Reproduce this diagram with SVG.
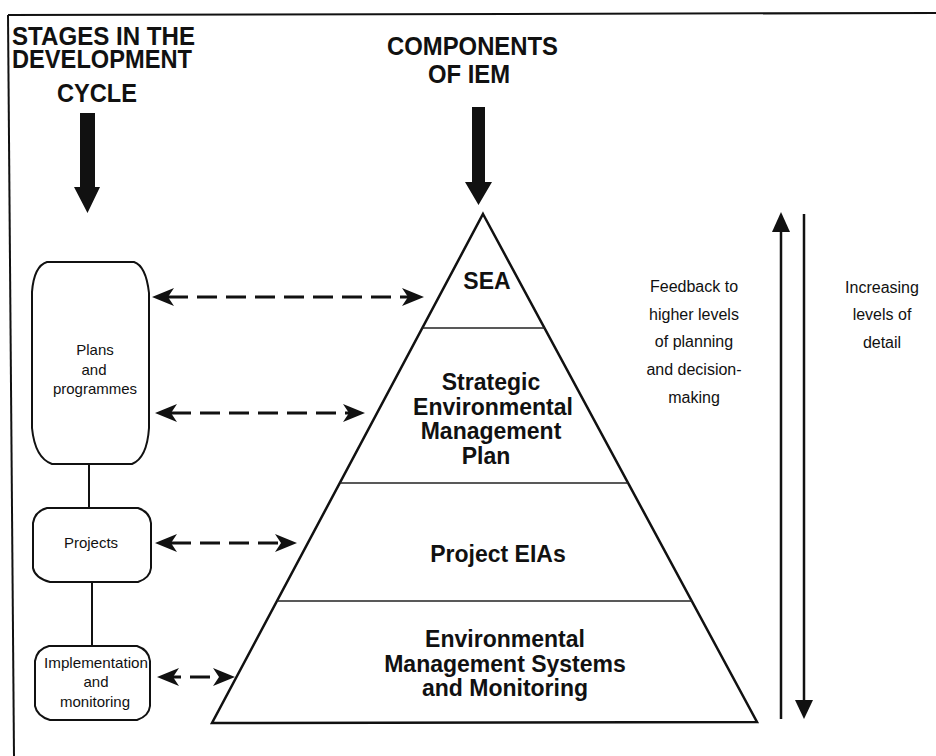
<svg xmlns="http://www.w3.org/2000/svg" width="936" height="756" viewBox="0 0 936 756">
<style>
.title{font-family:"Liberation Sans",Arial,sans-serif;font-weight:bold;font-size:26px;fill:#111}
.box{fill:#fff;stroke:#111;stroke-width:2}
.lbl{font-family:"Liberation Sans",Arial,sans-serif;font-size:15px;fill:#111;text-anchor:middle}
.pyr{font-family:"Liberation Sans",Arial,sans-serif;font-weight:bold;font-size:23px;fill:#111;text-anchor:middle}
.side{font-family:"Liberation Sans",Arial,sans-serif;font-size:16px;fill:#111;text-anchor:middle}
.dash{stroke:#111;stroke-width:3;stroke-dasharray:20 9;fill:none;marker-start:url(#barb);marker-end:url(#barb)}
.solid{stroke:#111;stroke-width:2;fill:none}
.tier{stroke:#222;stroke-width:1.5}
</style>
<defs>
<marker id="barb" markerUnits="userSpaceOnUse" markerWidth="24" markerHeight="20" refX="6" refY="9" orient="auto-start-reverse" viewBox="0 0 24 20">
<path d="M0,0 L22,9 L0,18 L6,9 Z" fill="#111"/>
</marker>
</defs>
<rect width="936" height="756" fill="#fff"/>
<g id="frame">
<line x1="8" y1="15" x2="936" y2="13" stroke="#111" stroke-width="2"/>
<line x1="8" y1="15" x2="14" y2="756" stroke="#111" stroke-width="2"/>
</g>
<g id="title-stages">
<text class="title" x="12" y="45" textLength="183" lengthAdjust="spacingAndGlyphs">STAGES IN THE</text>
<text class="title" x="12" y="68" textLength="180" lengthAdjust="spacingAndGlyphs">DEVELOPMENT</text>
<text class="title" x="57" y="102" textLength="80" lengthAdjust="spacingAndGlyphs">CYCLE</text>
<polygon points="80,113 95,113 95,187 100,187 87.5,213 74,187 80,187" fill="#111"/>
</g>
<g id="title-components">
<text class="title" x="387" y="55" font-size="29" textLength="171" lengthAdjust="spacingAndGlyphs">COMPONENTS</text>
<text class="title" x="428" y="83" font-size="29" textLength="82" lengthAdjust="spacingAndGlyphs">OF IEM</text>
<polygon points="472,107 485,107 485,182 492,182 478.5,205 465,182 472,182" fill="#111"/>
</g>
<g id="connectors">
<line class="solid" x1="89" y1="464" x2="89" y2="508"/>
<line class="solid" x1="92" y1="582" x2="92" y2="646"/>
<line class="dash" x1="168" y1="297" x2="408" y2="297"/>
<line class="dash" x1="171" y1="413" x2="349" y2="413"/>
<line class="dash" x1="171" y1="543" x2="281" y2="543"/>
<line class="dash" x1="173" y1="677" x2="219" y2="677" stroke-dasharray="12 8" stroke-dashoffset="-17"/>
</g>
<g id="node-plans">
<path class="box" d="M47,262 H134 Q146,266 149,293 V428 Q147,458 132,464 H52 Q35,458 32,428 V292 Q34,266 47,262 Z"/>
<text class="lbl" x="95" y="355">Plans</text>
<text class="lbl" x="94" y="375">and</text>
<text class="lbl" x="95" y="394">programmes</text>
</g>
<g id="node-projects">
<path class="box" d="M47,508 H138 Q150,512 151,523 V568 Q150,578 138,582 H50 Q35,578 33,568 V523 Q35,511 47,508 Z"/>
<text class="lbl" x="91" y="548">Projects</text>
</g>
<g id="node-implementation">
<path class="box" d="M49,646 H137 Q149,650 150,661 V706 Q149,716 137,720 H50 Q37,716 35,706 V661 Q37,649 49,646 Z"/>
<text class="lbl" x="96" y="668" textLength="104" lengthAdjust="spacingAndGlyphs">Implementation</text>
<text class="lbl" x="96" y="687">and</text>
<text class="lbl" x="95" y="707">monitoring</text>
</g>
<g id="pyramid">
<polygon points="483,214 757,722 212,723" fill="#fff" stroke="#111" stroke-width="2.5" stroke-linejoin="miter"/>
<line class="tier" x1="422" y1="328" x2="545" y2="328"/>
<line class="tier" x1="340" y1="483" x2="628" y2="483"/>
<line class="tier" x1="277" y1="601" x2="692" y2="601"/>
</g>
<g id="node-sea"><text class="pyr" x="487" y="289">SEA</text></g>
<g id="node-semp">
<text class="pyr" x="491" y="390">Strategic</text>
<text class="pyr" x="493" y="415">Environmental</text>
<text class="pyr" x="491" y="439">Management</text>
<text class="pyr" x="486" y="464">Plan</text>
</g>
<g id="node-eia"><text class="pyr" x="498" y="562">Project EIAs</text></g>
<g id="node-ems">
<text class="pyr" x="505" y="647">Environmental</text>
<text class="pyr" x="505" y="672">Management Systems</text>
<text class="pyr" x="505" y="696">and Monitoring</text>
</g>
<g id="feedback">
<line x1="781" y1="719" x2="781" y2="228" stroke="#111" stroke-width="2.5"/>
<polygon points="781,212 790,232 772,232" fill="#111"/>
<text class="side" x="694" y="292">Feedback to</text>
<text class="side" x="694" y="320">higher levels</text>
<text class="side" x="694" y="347">of planning</text>
<text class="side" x="694" y="375">and decision-</text>
<text class="side" x="694" y="403">making</text>
</g>
<g id="detail">
<line x1="804" y1="214" x2="804" y2="704" stroke="#111" stroke-width="2.5"/>
<polygon points="804,719 813,700 795,700" fill="#111"/>
<text class="side" x="882" y="293">Increasing</text>
<text class="side" x="882" y="320">levels of</text>
<text class="side" x="882" y="348">detail</text>
</g>
</svg>
